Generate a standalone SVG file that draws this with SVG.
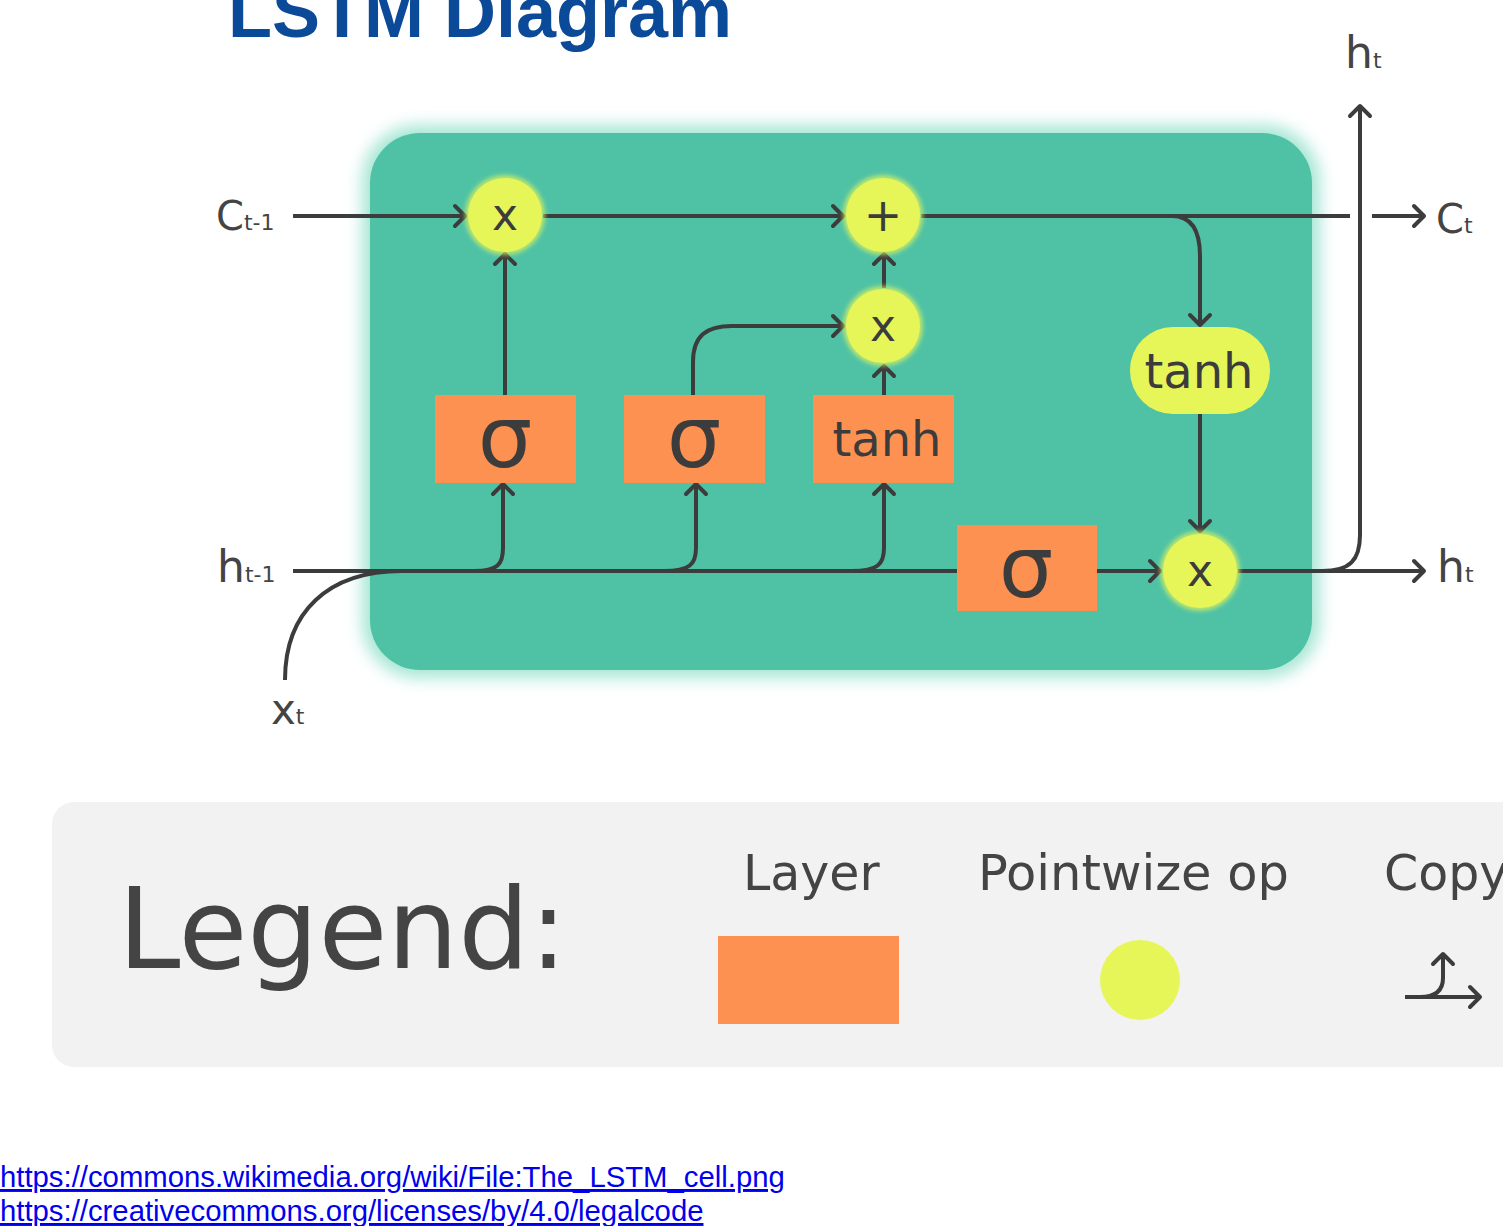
<svg xmlns="http://www.w3.org/2000/svg" width="1503" height="1226" viewBox="0 0 1503 1226">
<defs>
<style>
.ln{fill:none;stroke:#3c3c3c;stroke-width:4;}
.ar{marker-end:url(#chev);}
.lbl{font-family:"DejaVu Sans",sans-serif;fill:#444;}
.op{fill:#e6f659;}
.layer{fill:#fd9151;}
.gt{font-family:"DejaVu Sans",sans-serif;fill:#3c3c3c;text-anchor:middle;}
.link{font-family:"Liberation Sans",Arial,sans-serif;font-size:29.3px;fill:#0000ee;text-decoration:underline;}
</style>
<marker id="chev" markerUnits="userSpaceOnUse" markerWidth="30" markerHeight="30" refX="14" refY="12" orient="auto" overflow="visible">
<path d="M4,2 L14,12 L4,22" fill="none" stroke="#3c3c3c" stroke-width="4" stroke-linecap="round" stroke-linejoin="round"/>
</marker>
<filter id="glow" x="-10%" y="-10%" width="120%" height="120%"><feGaussianBlur stdDeviation="8"/></filter>
<filter id="sglow" x="-30%" y="-30%" width="160%" height="160%"><feGaussianBlur stdDeviation="2"/></filter>
</defs>
<rect width="1503" height="1226" fill="#ffffff"/>
<text x="228" y="37" font-family="Liberation Sans,Arial,sans-serif" font-weight="bold" font-size="72" fill="#0b4a99">LSTM Diagram</text>

<g id="cell">
<rect x="362" y="125" width="958" height="553" rx="56" fill="#a6e6d4" filter="url(#glow)"/>
<rect x="370" y="133" width="942" height="537" rx="50" fill="#4fc2a6"/>
</g>

<g id="connectors">
<path class="ln ar" d="M293,216 L465,216"/>
<path class="ln ar" d="M543,216 L843,216"/>
<path class="ln" d="M921,216 L1350,216"/>
<path class="ln ar" d="M1372,216 L1424,216"/>
<path class="ln ar" d="M1172,216 C1192,216 1200,232 1200,256 L1200,325"/>
<path class="ln ar" d="M1200,414 L1200,531"/>
<path class="ln" d="M293,571 L957,571"/>
<path class="ln ar" d="M1097,571 L1160,571"/>
<path class="ln ar" d="M1238,571 L1424,571"/>
<path class="ln ar" d="M1322,571 C1350,571 1360,560 1360,535 L1360,106"/>
<path class="ln" d="M285,680 C285,612 328,571 402,571"/>
<path class="ln ar" d="M474,571 C498,571 503,564 503,548 L503,484"/>
<path class="ln ar" d="M664,571 C690,571 696,564 696,548 L696,484"/>
<path class="ln ar" d="M852,571 C878,571 884,564 884,548 L884,484"/>
<path class="ln ar" d="M505,395 L505,254"/>
<path class="ln ar" d="M693,395 L693,362 C693,336 706,326 732,326 L843,326"/>
<path class="ln ar" d="M884,395 L884,366"/>
<path class="ln ar" d="M884,288 L884,254"/>
</g>

<g id="mul1"><circle cx="505" cy="215" r="40" fill="#e6f659" filter="url(#sglow)" opacity="0.7"/><circle class="op" cx="505" cy="215" r="37"/><text class="gt" x="505" y="230" font-size="44">x</text></g>
<g id="plus"><circle cx="883" cy="215" r="40" fill="#e6f659" filter="url(#sglow)" opacity="0.7"/><circle class="op" cx="883" cy="215" r="37"/><text class="gt" x="883" y="231" font-size="46">+</text></g>
<g id="mul2"><circle cx="883" cy="326" r="40" fill="#e6f659" filter="url(#sglow)" opacity="0.7"/><circle class="op" cx="883" cy="326" r="37"/><text class="gt" x="883" y="341" font-size="44">x</text></g>
<g id="tanh2"><rect x="1130" y="327" width="140" height="87" rx="43" class="op"/><text class="gt" x="1199" y="388" font-size="48">tanh</text></g>
<g id="mul3"><circle cx="1200" cy="571" r="40" fill="#e6f659" filter="url(#sglow)" opacity="0.7"/><circle class="op" cx="1200" cy="571" r="37"/><text class="gt" x="1200" y="586" font-size="44">x</text></g>

<g id="sigma1"><rect class="layer" x="435" y="395" width="141" height="88"/><text class="gt" x="505" y="467" font-size="86">σ</text></g>
<g id="sigma2"><rect class="layer" x="624" y="395" width="141" height="88"/><text class="gt" x="694" y="467" font-size="86">σ</text></g>
<g id="tanh1"><rect class="layer" x="813" y="395" width="141" height="88"/><text class="gt" x="887" y="456" font-size="48">tanh</text></g>
<g id="sigma3"><rect class="layer" x="957" y="525" width="140" height="86"/><text class="gt" x="1026" y="597" font-size="86">σ</text></g>

<g id="labels">
<text class="lbl" x="216" y="230" font-size="40">C<tspan font-size="22">t-1</tspan></text>
<text class="lbl" x="217" y="582" font-size="44">h<tspan font-size="22">t-1</tspan></text>
<text class="lbl" x="271" y="724" font-size="42">x<tspan font-size="22">t</tspan></text>
<text class="lbl" x="1345" y="68" font-size="44">h<tspan font-size="22">t</tspan></text>
<text class="lbl" x="1436" y="233" font-size="40">C<tspan font-size="22">t</tspan></text>
<text class="lbl" x="1437" y="582" font-size="44">h<tspan font-size="22">t</tspan></text>
</g>

<g id="legend">
<rect x="52" y="802" width="1480" height="265" rx="22" fill="#f2f2f2"/>
<text class="lbl" x="118" y="968" font-size="112">Legend:</text>
<text class="lbl" x="743" y="890" font-size="49">Layer</text>
<text class="lbl" x="978" y="890" font-size="49.5">Pointwize op</text>
<text class="lbl" x="1384" y="890" font-size="49">Copy</text>
<rect class="layer" x="718" y="936" width="181" height="88"/>
<circle class="op" cx="1140" cy="980" r="40"/>
<path class="ln ar" d="M1405,997 L1480,997"/>
<path class="ln ar" d="M1420,997 C1436,997 1443,990 1443,978 L1443,954"/>
</g>

<g id="links">
<text class="link" x="0" y="1187">https://commons.wikimedia.org/wiki/File:The_LSTM_cell.png</text>
<text class="link" x="0" y="1221">https://creativecommons.org/licenses/by/4.0/legalcode</text>
</g>
</svg>
